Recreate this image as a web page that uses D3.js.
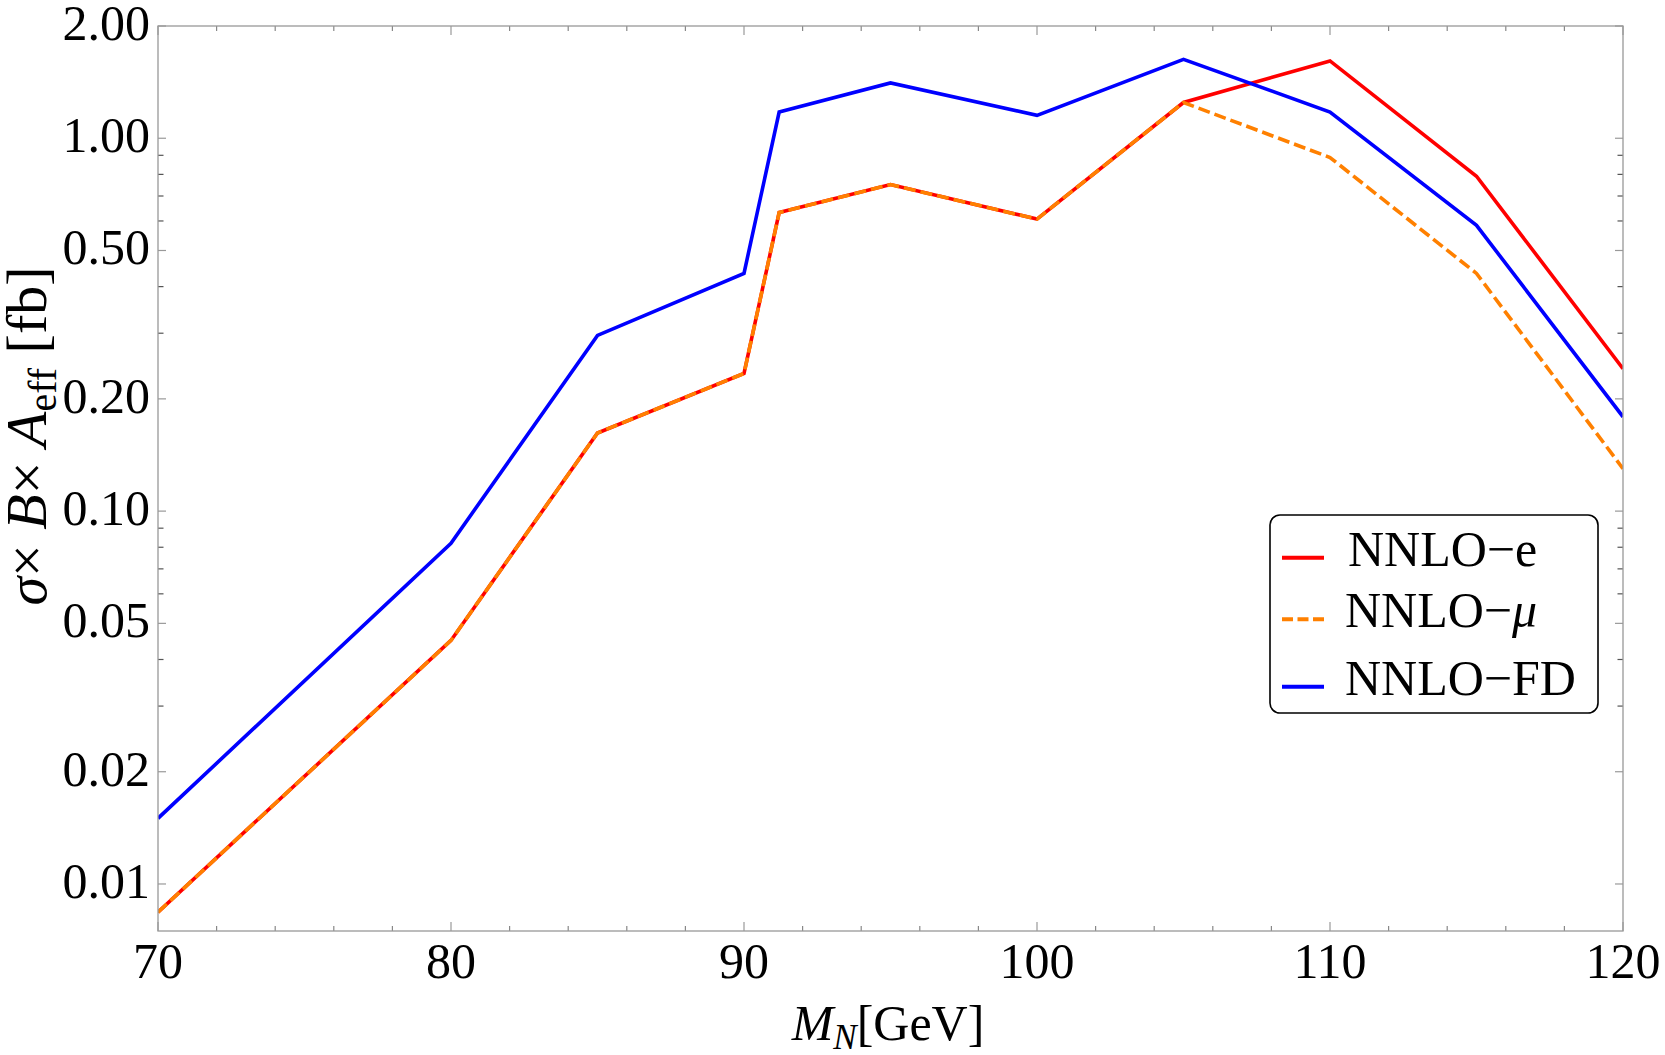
<!DOCTYPE html>
<html>
<head>
<meta charset="utf-8">
<script src="https://cdn.jsdelivr.net/npm/d3@7"></script>
<style>
  body { margin: 0; background: #fff; }
  text { font-family: "Liberation Serif", "DejaVu Serif", serif; fill: #000; }
</style>
</head>
<body>
<svg width="1665" height="1055"></svg>
<script>
// chart data
var massX = [70, 80, 85, 90, 91.2, 95, 100, 105, 110, 115, 120];
var nnloE = [0.0084, 0.045, 0.162, 0.234, 0.632, 0.751, 0.607, 1.247, 1.612, 0.791, 0.241];
var nnloMu = [0.0084, 0.045, 0.162, 0.234, 0.632, 0.751, 0.607, 1.247, 0.888, 0.434, 0.130];
var nnloFD = [0.0150, 0.082, 0.296, 0.434, 1.176, 1.407, 1.152, 1.628, 1.176, 0.584, 0.179];

var xMajor = [70, 80, 90, 100, 110, 120];
var xMinor = [72, 74, 76, 78, 82, 84, 86, 88, 92, 94, 96, 98, 102, 104, 106, 108, 112, 114, 116, 118];
var yMajor = [0.01, 0.02, 0.05, 0.1, 0.2, 0.5, 1, 2];
var yMajorLabels = ["0.01", "0.02", "0.05", "0.10", "0.20", "0.50", "1.00", "2.00"];
var yMinor = [0.03, 0.04, 0.06, 0.07, 0.08, 0.09, 0.3, 0.4, 0.6, 0.7, 0.8, 0.9];

var legendNames = ["NNLO\u2212e", "NNLO\u2212", "NNLO\u2212FD"];

var svg = d3.select("svg"),
  width = +svg.attr("width"),
  height = +svg.attr("height");

var pLeft = 158, pRight = 1623, pTop = 26, pBottom = 931;

var x = d3.scaleLinear().domain([70, 120]).range([pLeft, pRight]);
var y = d3.scaleLog().domain([0.00748, 2.0]).range([pBottom, pTop]);

// frame ticks
var g = svg.append("g");
function vTicks(vals, len, col, side) {
  vals.forEach(function(v) {
    var yy = y(v);
    if (side == "l") g.append("line").attr("x1", pLeft).attr("x2", pLeft + len).attr("y1", yy).attr("y2", yy).attr("stroke", col).attr("stroke-width", 1.2);
    else g.append("line").attr("x1", pRight).attr("x2", pRight - len).attr("y1", yy).attr("y2", yy).attr("stroke", col).attr("stroke-width", 1.2);
  });
}
function hTicks(vals, len, col, side) {
  vals.forEach(function(v) {
    var xx = x(v);
    if (side == "b") g.append("line").attr("x1", xx).attr("x2", xx).attr("y1", pBottom).attr("y2", pBottom - len).attr("stroke", col).attr("stroke-width", 1.2);
    else g.append("line").attr("x1", xx).attr("x2", xx).attr("y1", pTop).attr("y2", pTop + len).attr("stroke", col).attr("stroke-width", 1.2);
  });
}
vTicks(yMajor, 8, "#999", "l");
vTicks(yMajor, 8, "#999", "r");
vTicks(yMinor, 5.5, "#555", "l");
vTicks(yMinor, 5.5, "#555", "r");
hTicks(xMajor, 9, "#999", "b");
hTicks(xMajor, 9, "#999", "t");
hTicks(xMinor, 5, "#888", "b");
hTicks(xMinor, 5, "#888", "t");

// tick labels
svg.append("g").selectAll("text").data(yMajor).enter().append("text")
  .attr("x", 150).attr("y", function(d) { return y(d) + 14; })
  .attr("text-anchor", "end").style("font-size", "50px")
  .text(function(d, i) { return yMajorLabels[i]; });

svg.append("g").selectAll("text").data(xMajor).enter().append("text")
  .attr("x", function(d) { return x(d); }).attr("y", 978)
  .attr("text-anchor", "middle").style("font-size", "50px")
  .text(function(d) { return d; });

// lines
svg.append("clipPath").attr("id", "clip").append("rect")
  .attr("x", pLeft).attr("y", pTop).attr("width", pRight - pLeft).attr("height", pBottom - pTop);

var line = d3.line()
  .x(function(d) { return x(d[0]); })
  .y(function(d) { return y(d[1]); });

var plot = svg.append("g").attr("clip-path", "url(#clip)");
plot.append("path").datum(d3.zip(massX, nnloE)).attr("d", line)
  .attr("fill", "none").attr("stroke", "#ff0000").attr("stroke-width", 3.6);
plot.append("path").datum(d3.zip(massX, nnloMu)).attr("d", line)
  .attr("fill", "none").attr("stroke", "#ff8000").attr("stroke-width", 3.6)
  .attr("stroke-dasharray", "12,5");
plot.append("path").datum(d3.zip(massX, nnloFD)).attr("d", line)
  .attr("fill", "none").attr("stroke", "#0000ff").attr("stroke-width", 3.6);

// frame
svg.append("rect").attr("x", pLeft).attr("y", pTop).attr("width", pRight - pLeft).attr("height", pBottom - pTop)
  .attr("fill", "none").attr("stroke", "#999").attr("stroke-width", 1.3);

// axis labels
var xl = svg.append("text").attr("x", 888).attr("y", 1040).attr("text-anchor", "middle").style("font-size", "50px");
xl.append("tspan").style("font-style", "italic").text("M");
xl.append("tspan").style("font-style", "italic").style("font-size", "35px").attr("dy", 9).text("N");
xl.append("tspan").attr("dy", -9).text("[GeV]");

var yl = svg.append("text").attr("transform", "translate(46,436) rotate(-90)")
  .attr("text-anchor", "middle").style("font-size", "58px");
yl.append("tspan").style("font-style", "italic").text("\u03C3");
yl.append("tspan").text("\u00D7 ");
yl.append("tspan").style("font-style", "italic").text("B");
yl.append("tspan").text("\u00D7 ");
yl.append("tspan").style("font-style", "italic").text("A");
yl.append("tspan").style("font-size", "40px").attr("dy", 10).text("eff");
yl.append("tspan").attr("dy", -10).text(" [fb]");

// legend
var lg = svg.append("g");
lg.append("rect").attr("x", 1270).attr("y", 515).attr("width", 328).attr("height", 198)
  .attr("rx", 10).attr("fill", "#fff").attr("stroke", "#000").attr("stroke-width", 1.6);
var legColors = ["#ff0000", "#ff8000", "#0000ff"];
var legY = [557.7, 619.3, 686.7];
legendNames.forEach(function(n, i) {
  var s = lg.append("line").attr("x1", 1282).attr("x2", 1324).attr("y1", legY[i]).attr("y2", legY[i])
    .attr("stroke", legColors[i]).attr("stroke-width", 4);
  if (i == 1) s.attr("stroke-dasharray", "11,4.5");
  var t = lg.append("text").attr("x", i == 0 ? 1348 : 1345).attr("y", legY[i] + 8)
    .style("font-size", "50px").text(n);
  if (i == 1) t.append("tspan").style("font-style", "italic").text("\u03BC");
});
</script>
</body>
</html>
